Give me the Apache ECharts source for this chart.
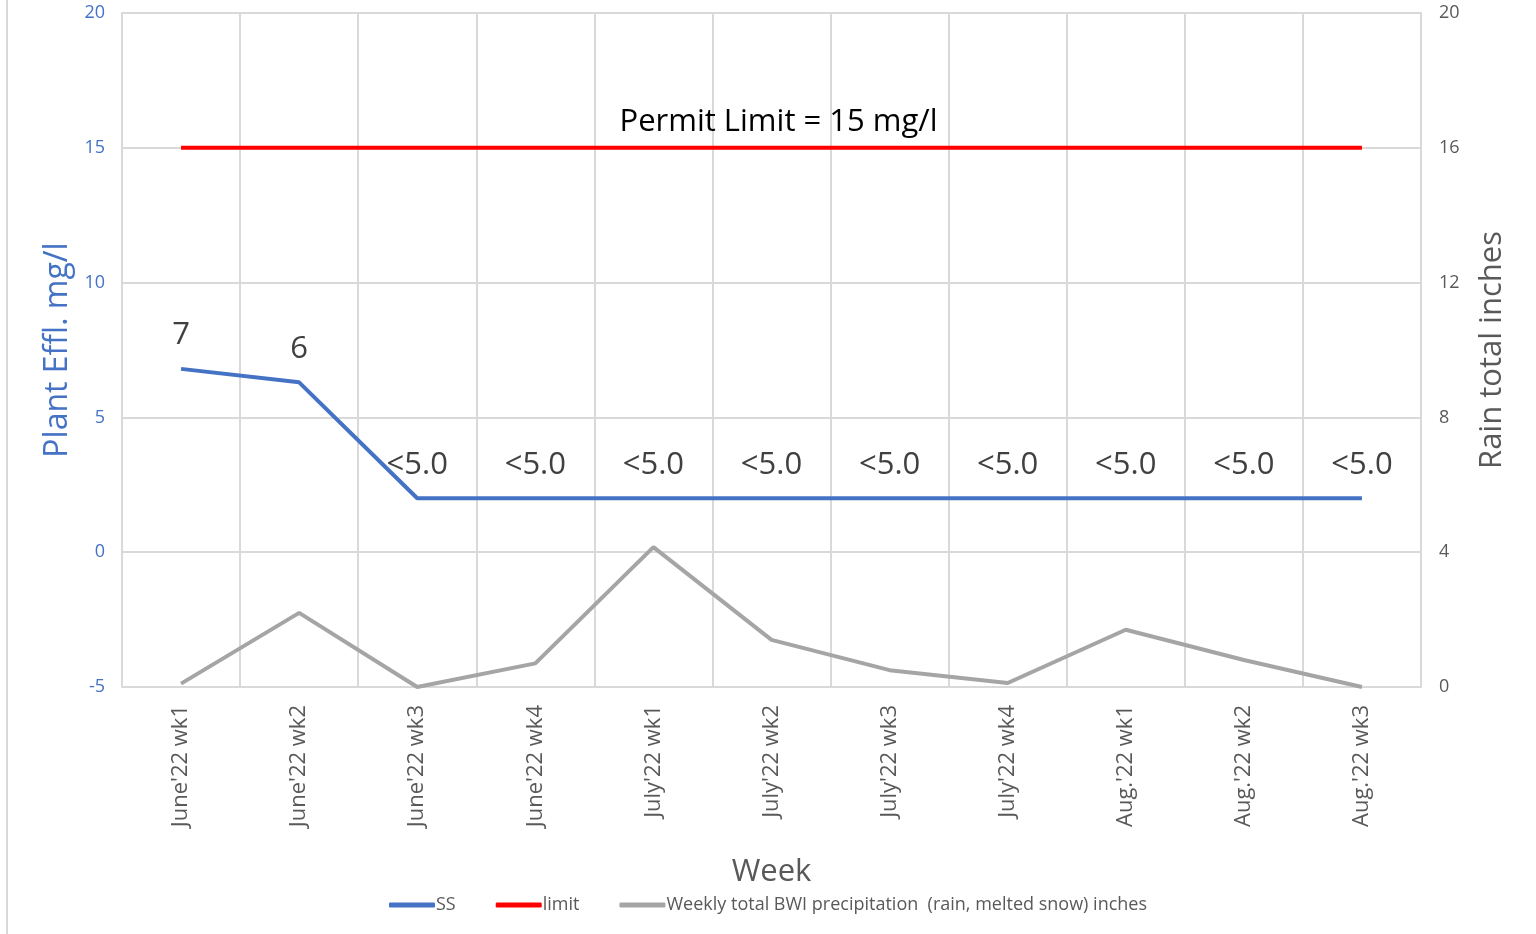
<!DOCTYPE html>
<html>
<head>
<meta charset="utf-8">
<script src="https://cdn.jsdelivr.net/npm/echarts@6/dist/echarts.min.js"></script>
<style>
  html, body { margin: 0; padding: 0; background: #fff; }
  #chart { width: 1536px; height: 934px; }
</style>
</head>
<body>
<div id="chart"></div>
<script>
var weeks = ["June'22 wk1", "June'22 wk2", "June'22 wk3", "June'22 wk4", "July'22 wk1", "July'22 wk2",
  "July'22 wk3", "July'22 wk4", "Aug.'22 wk1", "Aug.'22 wk2", "Aug.'22 wk3"];
var ss = [6.8, 6.3, 2, 2, 2, 2, 2, 2, 2, 2, 2];
var ssLabels = ["7", "6", "<5.0", "<5.0", "<5.0", "<5.0", "<5.0", "<5.0", "<5.0", "<5.0", "<5.0"];
var limit = [15, 15, 15, 15, 15, 15, 15, 15, 15, 15, 15];
var rain = [0.1, 2.2, 0, 0.7, 4.15, 1.4, 0.5, 0.12, 1.7, 0.8, 0];

var FONT = "Open Sans";
var myChart = echarts.init(document.getElementById("chart"));

var limitData = limit.map(function (v, i) {
  if (i === 5) {
    return {
      value: v,
      label: {
        show: true,
        position: "top",
        distance: 10,
        offset: [7, 0],
        formatter: "Permit Limit = 15 mg/l",
        color: "#000",
        fontSize: 31,
        fontFamily: FONT
      }
    };
  }
  return v;
});

var option = {
  animation: false,
  backgroundColor: "#fff",
  textStyle: { fontFamily: FONT },
  grid: { left: 122, right: 115, top: 13, bottom: 247 },
  legend: {
    bottom: 15,
    left: "center",
    itemWidth: 46,
    itemHeight: 5,
    itemGap: 40,
    icon: "roundRect",
    textStyle: { color: "#595959", fontSize: 18, fontFamily: FONT, padding: [0, 0, 0, -4] },
    data: ["SS", "limit", "Weekly total BWI precipitation  (rain, melted snow) inches"]
  },
  xAxis: {
    type: "category",
    data: weeks,
    boundaryGap: true,
    name: "Week",
    nameLocation: "middle",
    nameGap: 170,
    nameTextStyle: { color: "#595959", fontSize: 31, fontFamily: FONT },
    axisLine: { lineStyle: { color: "#d9d9d9", width: 2 } },
    axisTick: { show: false },
    axisLabel: { rotate: 90, color: "#595959", fontSize: 22, margin: 18, fontFamily: FONT },
    splitLine: { show: true, lineStyle: { color: "#d9d9d9", width: 2 } }
  },
  yAxis: [
    {
      type: "value",
      min: -5,
      max: 20,
      interval: 5,
      name: "Plant Effl. mg/l",
      nameLocation: "middle",
      nameRotate: 90,
      nameGap: 46,
      nameTextStyle: { color: "#4472c4", fontSize: 32, fontFamily: FONT },
      axisLine: { show: true, lineStyle: { color: "#d9d9d9", width: 2 } },
      axisTick: { show: false },
      axisLabel: { color: "#4472c4", fontSize: 18, margin: 17, fontFamily: FONT },
      splitLine: { show: true, lineStyle: { color: "#d9d9d9", width: 2 } }
    },
    {
      type: "value",
      min: 0,
      max: 20,
      interval: 4,
      position: "right",
      name: "Rain total inches",
      nameLocation: "middle",
      nameRotate: 90,
      nameGap: 56,
      nameTextStyle: { color: "#595959", fontSize: 31, fontFamily: FONT },
      axisLine: { show: true, lineStyle: { color: "#d9d9d9", width: 2 } },
      axisTick: { show: false },
      axisLabel: { color: "#595959", fontSize: 18, margin: 18, fontFamily: FONT },
      splitLine: { show: false }
    }
  ],
  series: [
    {
      name: "SS",
      type: "line",
      yAxisIndex: 0,
      data: ss,
      symbol: "circle",
      symbolSize: 0,
      lineStyle: { color: "#4472c4", width: 4 },
      itemStyle: { color: "#4472c4" },
      label: {
        show: true,
        position: "top",
        distance: 18,
        color: "#404040",
        fontSize: 31,
        fontFamily: FONT,
        formatter: function (p) { return ssLabels[p.dataIndex]; }
      },
      z: 4
    },
    {
      name: "limit",
      type: "line",
      yAxisIndex: 0,
      data: limitData,
      symbol: "circle",
      symbolSize: 0,
      lineStyle: { color: "#ff0000", width: 4 },
      itemStyle: { color: "#ff0000" },
      z: 3
    },
    {
      name: "Weekly total BWI precipitation  (rain, melted snow) inches",
      type: "line",
      yAxisIndex: 1,
      data: rain,
      symbol: "none",
      lineStyle: { color: "#a5a5a5", width: 4 },
      itemStyle: { color: "#a5a5a5" },
      z: 2
    }
  ],
  graphic: [
    {
      type: "line",
      shape: { x1: 7, y1: 0, x2: 7, y2: 934 },
      style: { stroke: "#d9d9d9", lineWidth: 2 }
    }
  ]
};

myChart.setOption(option);
</script>
</body>
</html>
